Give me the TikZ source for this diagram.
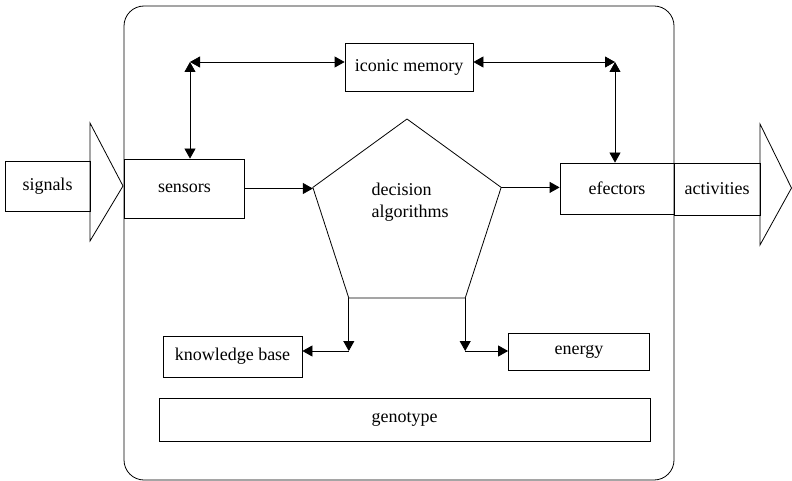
\documentclass[tikz,border=0pt]{standalone}
\usepackage{fontspec}
\setmainfont{Liberation Serif}
\usepackage{tikz}
\usetikzlibrary{positioning, shapes.geometric, arrows.meta}

\begin{document}
\begin{tikzpicture}[x=1pt, y=-1pt, line width=0.8pt,
    font=\fontsize{18}{22}\selectfont,
    box/.style={draw, rectangle, inner sep=0pt},
    tip/.style={-{Triangle[length=10pt, width=11pt]}},
    tips/.style={{Triangle[length=10pt, width=11pt]}-{Triangle[length=10pt, width=11pt]}}]
    \useasboundingbox (0,0) rectangle (792,481);

    % Organism
    \draw[rounded corners=20pt] (124,6) rectangle (674,480);

    % Input and output
    \node[box, minimum width=85pt, minimum height=50pt] (signals) at (47.5,186) {signals};
    \draw (90,123) -- (123,186) -- (90,241) -- cycle;
    \node[box, minimum width=86pt, minimum height=52pt] (activities) at (717,189) {activities};
    \draw (760,124) -- (791.5,188) -- (760,245) -- cycle;

    % Blocks
    \node[box, minimum width=120pt, minimum height=59pt] (sensors) at (184.5,188.5) {sensors};
    \node[box, minimum width=128pt, minimum height=48pt] (memory) at (409,67) {iconic memory};
    \node[box, minimum width=114pt, minimum height=51pt] (efectors) at (617,188.5) {efectors};
    \node[box, minimum width=139pt, minimum height=41pt] (knowledge) at (232.5,356.5) {knowledge base};
    \node[box, minimum width=141pt, minimum height=37pt] (energy) at (579,351.5) {energy};
    \node[box, minimum width=491pt, minimum height=43pt] (genotype) at (404.5,419.5) {genotype};

    % Decision pentagon
    \node[draw, regular polygon, regular polygon sides=5, minimum size=198pt,
          inner sep=0pt, outer sep=0pt] (decision) at (407,218) {};
    \node[align=left, anchor=west] (algorithms) at (368,202) {decision\\algorithms};

    % Memory loop
    \coordinate (tl) at (190,62);
    \coordinate (tr) at (615,62);
    \draw[tips] (tl) -- (tl |- sensors.north);
    \draw[tips] (tl) -- (tl -| memory.west);
    \draw[tips] (tr -| memory.east) -- (tr);
    \draw[tips] (tr) -- (tr |- efectors.north);

    % Main flow
    \draw[tip] (sensors.east) -- (sensors.east -| decision.corner 2);
    \draw[tip] (decision.corner 5) -- (decision.corner 5 -| efectors.west);

    % Lower branches
    \coordinate (bl) at (decision.corner 3 |- 0,351);
    \coordinate (br) at (decision.corner 4 |- 0,351);
    \draw[tip] (decision.corner 3) -- (bl);
    \draw[tip] (bl) -- (bl -| knowledge.east);
    \draw[tip] (decision.corner 4) -- (br);
    \draw[tip] (br) -- (br -| energy.west);
\end{tikzpicture}
\end{document}
